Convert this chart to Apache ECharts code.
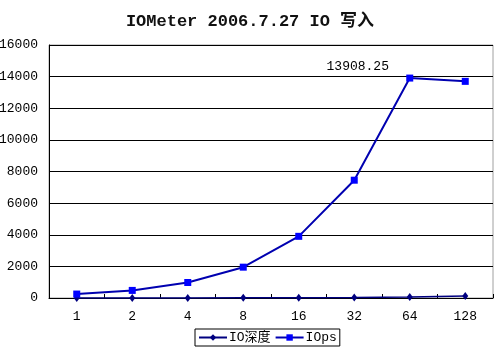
<!DOCTYPE html>
<html>
<head>
<meta charset="utf-8">
<style>
  html, body { margin: 0; padding: 0; background: #fff; }
  #chart { width: 500px; height: 351px; }
</style>
<script src="https://cdn.jsdelivr.net/npm/echarts@6/dist/echarts.min.js"></script>
</head>
<body>
<div id="chart"></div>
<script>
// 队列深度
const categories = ['1', '2', '4', '8', '16', '32', '64', '128']
const ioDepth = [1, 2, 4, 8, 16, 32, 64, 128]
const iops = [250, 480, 980, 1950, 3900, 7450, 13908.25, 13700]
const yTicks = { min: 0, max: 16000, interval: 2000 }

const font = '"Liberation Mono", "Noto Sans CJK SC", monospace'

const chart = echarts.init(document.getElementById('chart'))
chart.setOption({
  animation: false,
  title: {
    text: 'IOMeter 2006.7.27 IO 写入',
    left: 'center',
    top: 8,
    textStyle: {
      fontFamily: font,
      fontSize: 17,
      fontWeight: 'bold',
      color: '#111'
    }
  },
  grid: {
    left: 49,
    right: 7,
    top: 45,
    bottom: 53,
    outerBoundsMode: 'none',
    show: true,
    borderColor: '#a0a0a0',
    borderWidth: 1
  },
  legend: {
    bottom: 5,
    left: 195,
    itemGap: 4,
    itemWidth: 28,
    itemHeight: 8,
    padding: [2, 3],
    borderColor: '#000',
    borderWidth: 1,
    borderRadius: 0,
    textStyle: { fontFamily: font, fontSize: 13, color: '#000', padding: [0, 0, 0, -3] },
    data: ['IO深度', 'IOps']
  },
  xAxis: {
    type: 'category',
    data: categories,
    boundaryGap: true,
    axisLine: { lineStyle: { color: '#000', width: 1 } },
    axisTick: { show: true, length: 4, inside: true, lineStyle: { color: '#000' } },
    axisLabel: { fontFamily: font, fontSize: 13, color: '#000', margin: 12 }
  },
  yAxis: {
    type: 'value',
    min: yTicks.min,
    max: yTicks.max,
    interval: yTicks.interval,
    axisLine: { show: true, lineStyle: { color: '#000', width: 1 } },
    axisTick: { show: false },
    axisLabel: { fontFamily: font, fontSize: 13, color: '#000', margin: 11, formatter: v => String(v) },
    splitLine: { show: true, lineStyle: { color: '#000', width: 1 } }
  },
  series: [
    {
      name: 'IO深度',
      type: 'line',
      data: ioDepth,
      symbol: 'diamond',
      symbolSize: [6, 8],
      itemStyle: { color: '#000080' },
      lineStyle: { color: '#000080', width: 1.5 },
      z: 3
    },
    {
      name: 'IOps',
      type: 'line',
      data: iops.map((v, i) => i === 6 ? {
        value: v,
        label: {
          show: true,
          position: 'top',
          offset: [-52, 3],
          formatter: '{c}',
          fontFamily: font,
          fontSize: 13,
          color: '#000'
        }
      } : v),
      symbol: 'rect',
      symbolSize: 7,
      itemStyle: { color: '#0000ff' },
      lineStyle: { color: '#0000b0', width: 2 },
      z: 4
    }
  ]
})
</script>
</body>
</html>
